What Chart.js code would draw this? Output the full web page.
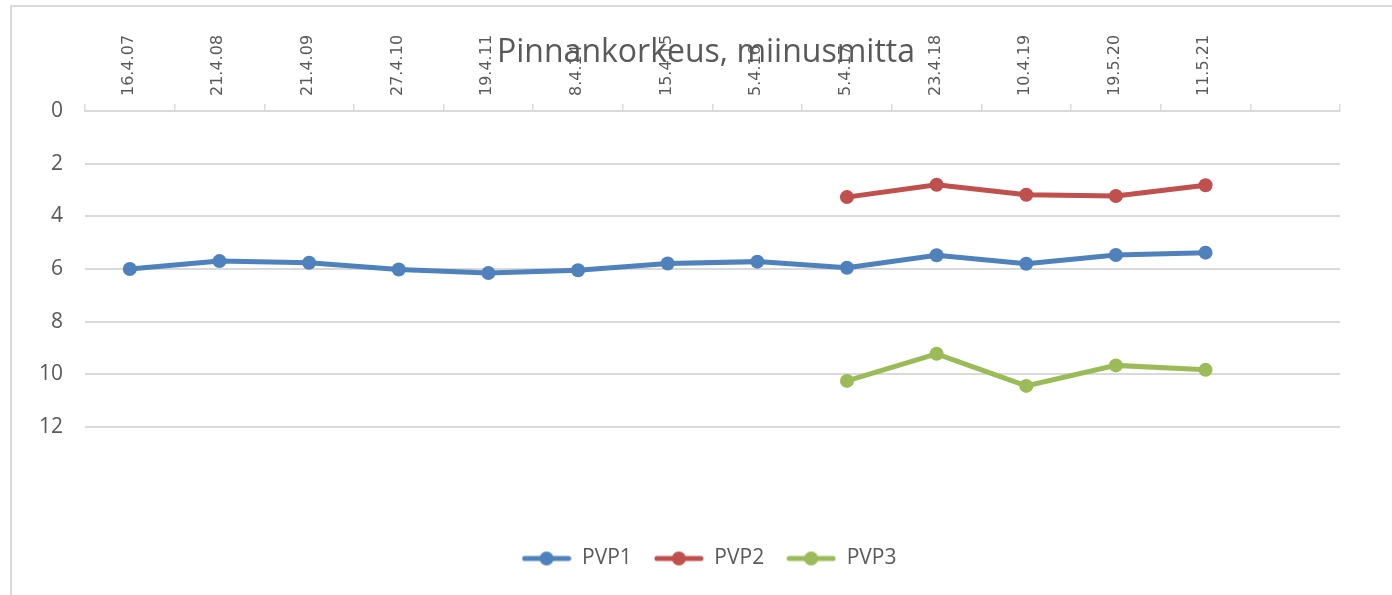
<!DOCTYPE html>
<html>
<head>
<meta charset="utf-8">
<script src="https://cdn.jsdelivr.net/npm/chart.js@4"></script>
<style>
  html, body { margin: 0; padding: 0; background: #fff; }
  #wrap { position: absolute; left: 0; top: 0; width: 1392px; height: 595px; }
  #frame { position: absolute; left: 10px; top: 5px; width: 1400px; height: 620px;
           border-left: 2px solid #d9d9d9; border-top: 2px solid #d9d9d9; }
  canvas { position: absolute; left: 0; top: 0; }
</style>
</head>
<body>
<div id="wrap">
  <div id="frame"></div>
  <canvas id="chart" width="1392" height="595"></canvas>
</div>
<script>
// Water level chart (depth below surface, reversed axis)
const dates = ['16.4.07', '21.4.08', '21.4.09', '27.4.10', '19.4.11', '8.4.14', '15.4.15',
               '5.4.16', '5.4.17', '23.4.18', '10.4.19', '19.5.20', '11.5.21', ''];
const pvp1 = [6.0, 5.7, 5.76, 6.02, 6.15, 6.05, 5.79, 5.72, 5.95, 5.48, 5.8, 5.47, 5.38, null];
const pvp2 = [null, null, null, null, null, null, null, null, 3.27, 2.8, 3.18, 3.23, 2.82, null];
const pvp3 = [null, null, null, null, null, null, null, null, 10.25, 9.22, 10.44, 9.66, 9.83, null];
const yTicks = [0, 2, 4, 6, 8, 10, 12];

const titleText = 'Pinnankorkeus, miinusmitta';
const textColor = '#595959';
const gridColor = '#d9d9d9';

// legend marker: line with a dot in the middle
function legendMarker(color) {
    const c = document.createElement('canvas');
    c.width = 50;
    c.height = 16;
    const g = c.getContext('2d');
    g.strokeStyle = color;
    g.lineWidth = 5;
    g.lineCap = 'round';
    g.beginPath();
    g.moveTo(3, 8);
    g.lineTo(47, 8);
    g.stroke();
    g.fillStyle = color;
    g.beginPath();
    g.arc(25, 8, 7, 0, Math.PI * 2);
    g.fill();
    return c;
}

function series(label, data, color) {
    return {
        label: label,
        data: data,
        borderColor: color,
        backgroundColor: color,
        borderWidth: 5,
        pointRadius: 7,
        pointHoverRadius: 7,
        pointBackgroundColor: color,
        pointBorderWidth: 0,
        pointStyle: 'circle',
        tension: 0,
        spanGaps: false
    };
}

// title drawn over the axis labels, like the original
const overlayTitle = {
    id: 'overlayTitle',
    afterLayout(chart) {
        // legend sits a bit right of centre in the original
        chart.legend.left += 39;
        chart.legend.right += 39;
    },
    afterDraw(chart) {
        const ctx = chart.ctx;
        ctx.save();
        ctx.font = '32px "Open Sans"';
        ctx.fillStyle = textColor;
        ctx.textAlign = 'center';
        ctx.textBaseline = 'middle';
        ctx.fillText(titleText, 706, 53);
        ctx.restore();
    }
};

const ctx = document.getElementById('chart').getContext('2d');
const chart = new Chart(ctx, {
    type: 'line',
    data: {
        labels: dates,
        datasets: [
            series('PVP1', pvp1, '#4f81bd'),
            series('PVP2', pvp2, '#c0504d'),
            series('PVP3', pvp3, '#9bbb59')
        ]
    },
    options: {
        responsive: false,
        animation: false,
        layout: {
            padding: { left: 0, right: 52, top: 0, bottom: 16 }
        },
        plugins: {
            title: { display: false },
            tooltip: { enabled: false },
            legend: {
                position: 'bottom',
                labels: {
                    usePointStyle: true,
                    pointStyleWidth: 50,
                    boxHeight: 16,
                    padding: 22,
                    color: textColor,
                    font: { family: 'Open Sans', size: 21 },
                    generateLabels(chart) {
                        const items = Chart.defaults.plugins.legend.labels.generateLabels(chart);
                        items.forEach(it => {
                            it.pointStyle = legendMarker(chart.data.datasets[it.datasetIndex].borderColor);
                        });
                        return items;
                    }
                }
            }
        },
        scales: {
            x: {
                type: 'category',
                position: 'top',
                offset: true,
                grid: {
                    offset: true,
                    drawOnChartArea: false,
                    drawTicks: true,
                    tickLength: 7,
                    color: gridColor,
                    lineWidth: 1.5
                },
                border: { display: true, color: gridColor, width: 2 },
                ticks: {
                    minRotation: 90,
                    maxRotation: 90,
                    autoSkip: false,
                    padding: 8,
                    labelOffset: 18,
                    color: textColor,
                    font: { family: 'DejaVu Sans', size: 16 }
                },
                afterFit(scale) { scale.height = 111; }
            },
            xPad: {
                type: 'category',
                position: 'bottom',
                display: true,
                grid: { display: false },
                border: { display: false },
                ticks: { display: false },
                afterFit(scale) { scale.height = 99; }
            },
            y: {
                reverse: true,
                min: 0,
                max: 12,
                afterBuildTicks(scale) {
                    scale.ticks = yTicks.map(v => ({ value: v }));
                },
                grid: {
                    color: gridColor,
                    lineWidth: 2,
                    drawTicks: false
                },
                border: { display: false },
                ticks: {
                    padding: 22,
                    color: textColor,
                    font: { family: 'Open Sans', size: 21 }
                },
                afterFit(scale) { scale.width = 85; }
            }
        }
    },
    plugins: [overlayTitle]
});
</script>
</body>
</html>
